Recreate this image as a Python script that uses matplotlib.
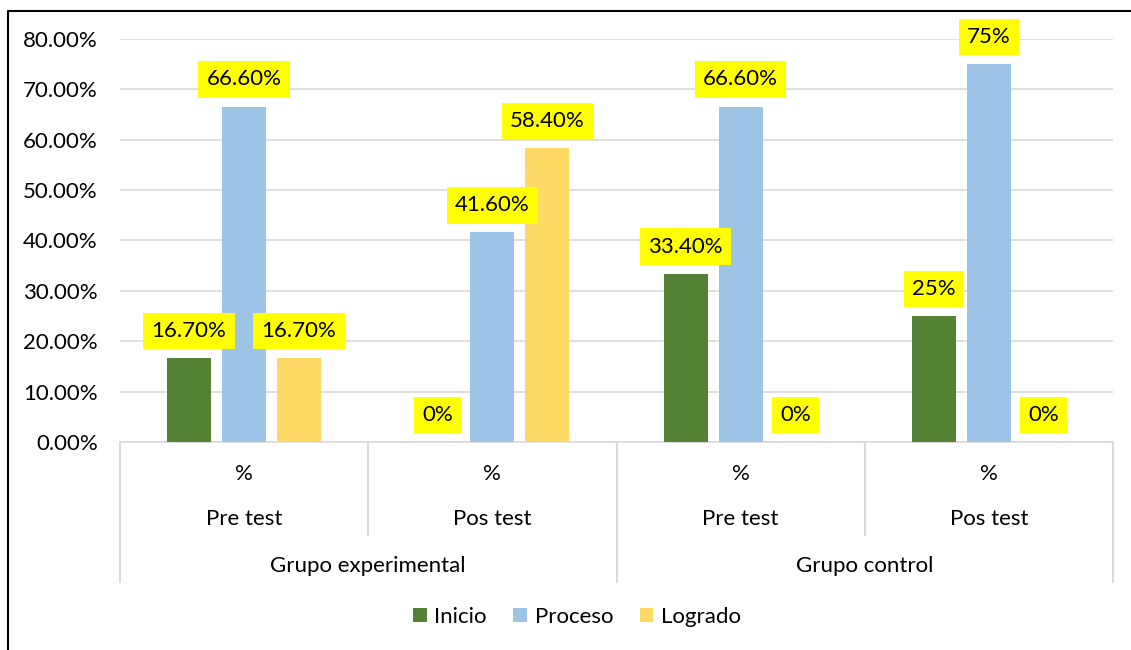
import matplotlib
matplotlib.use("Agg")
import matplotlib.pyplot as plt
from matplotlib.patches import Patch
from matplotlib.lines import Line2D
import matplotlib.transforms as mtransforms

plt.rcParams['font.family'] = ['Lato', 'DejaVu Sans']

# ---- data ----
outer_groups = ["Grupo experimental", "Grupo control"]
middle_labels = ["Pre test", "Pos test", "Pre test", "Pos test"]
inner_labels = ["%", "%", "%", "%"]
series_names = ["Inicio", "Proceso", "Logrado"]
inicio = [16.7, 0.0, 33.4, 25.0]
proceso = [66.6, 41.6, 66.6, 75.0]
logrado = [16.7, 58.4, 0.0, 0.0]
inicio_lbl = ["16.70%", "0%", "33.40%", "25%"]
proceso_lbl = ["66.60%", "41.60%", "66.60%", "75%"]
logrado_lbl = ["16.70%", "58.40%", "0%", "0%"]
yticks = [0, 10, 20, 30, 40, 50, 60, 70, 80]

colors = ["#548235", "#9DC3E6", "#FFD966"]
grid_c = "#D9D9D9"
FS = 16

W, H = 1131, 650
fig = plt.figure(figsize=(W / 100, H / 100), dpi=100)
ax = fig.add_axes([120 / W, 1 - 442 / H, (1113 - 120) / W, (442 - 39) / H])

n = len(inicio)
x = list(range(n))
off = 0.2216
bw = 0.177
for k, (vals, lbls) in enumerate([(inicio, inicio_lbl), (proceso, proceso_lbl), (logrado, logrado_lbl)]):
    xs = [xi + (k - 1) * off for xi in x]
    ax.bar(xs, vals, width=bw, color=colors[k], zorder=3, label=series_names[k])
    for xi, v, t in zip(xs, vals, lbls):
        ax.annotate(t, (xi, v), xytext=(0, 19.5), textcoords="offset points",
                    ha="center", va="center", fontsize=FS, color="black", zorder=5,
                    annotation_clip=False,
                    bbox=dict(boxstyle="square,pad=0.37", fc="#FFFF00", ec="none"))

ax.set_xlim(-0.5, n - 0.5)
ax.set_ylim(0, 80)
ax.set_yticks(yticks)
ax.set_yticklabels([f"{v:.2f}%" for v in yticks], fontsize=FS)
ax.set_xticks([])
ax.tick_params(axis="y", length=0, pad=16)
ax.grid(axis="y", color=grid_c, linewidth=1.2, zorder=0)
for s in ["left", "right", "top"]:
    ax.spines[s].set_visible(False)
ax.spines["bottom"].set_color(grid_c)
ax.spines["bottom"].set_linewidth(1.2)

# multi-level category axis
tr = mtransforms.blended_transform_factory(ax.transData, ax.transAxes)
ah = 442 - 39
def yf(py):
    return (442 - py) / ah

for xi in x:
    ax.text(xi, yf(474), inner_labels[xi], transform=tr, ha="center", va="center", fontsize=FS)
    ax.text(xi, yf(519), middle_labels[xi], transform=tr, ha="center", va="center", fontsize=FS)
for gi, g in enumerate(outer_groups):
    ax.text(gi * 2 + 0.5, yf(566), g, transform=tr, ha="center", va="center", fontsize=FS)

for b in [-0.5, 0.5, 1.5, 2.5, 3.5]:
    bottom = yf(582) if b in (-0.5, 1.5, 3.5) else yf(535)
    ax.add_line(Line2D([b, b], [0, bottom], transform=tr, color=grid_c, linewidth=1.5, clip_on=False))

# legend
handles = [Patch(facecolor=c, edgecolor="none") for c in colors]
fig.legend(handles, series_names, loc="center", bbox_to_anchor=(577 / W, 1 - 617 / H),
           ncol=3, frameon=False, fontsize=FS, handlelength=0.6, handleheight=0.6,
           handletextpad=0.35, columnspacing=1.2)

# figure border (left and top visible)
fig.add_artist(Line2D([8 / W, 8 / W, 1.0], [0.0, 1 - 11 / H, 1 - 11 / H],
                      transform=fig.transFigure, color="black", linewidth=1.5))

fig.savefig("out.png", dpi=100)
